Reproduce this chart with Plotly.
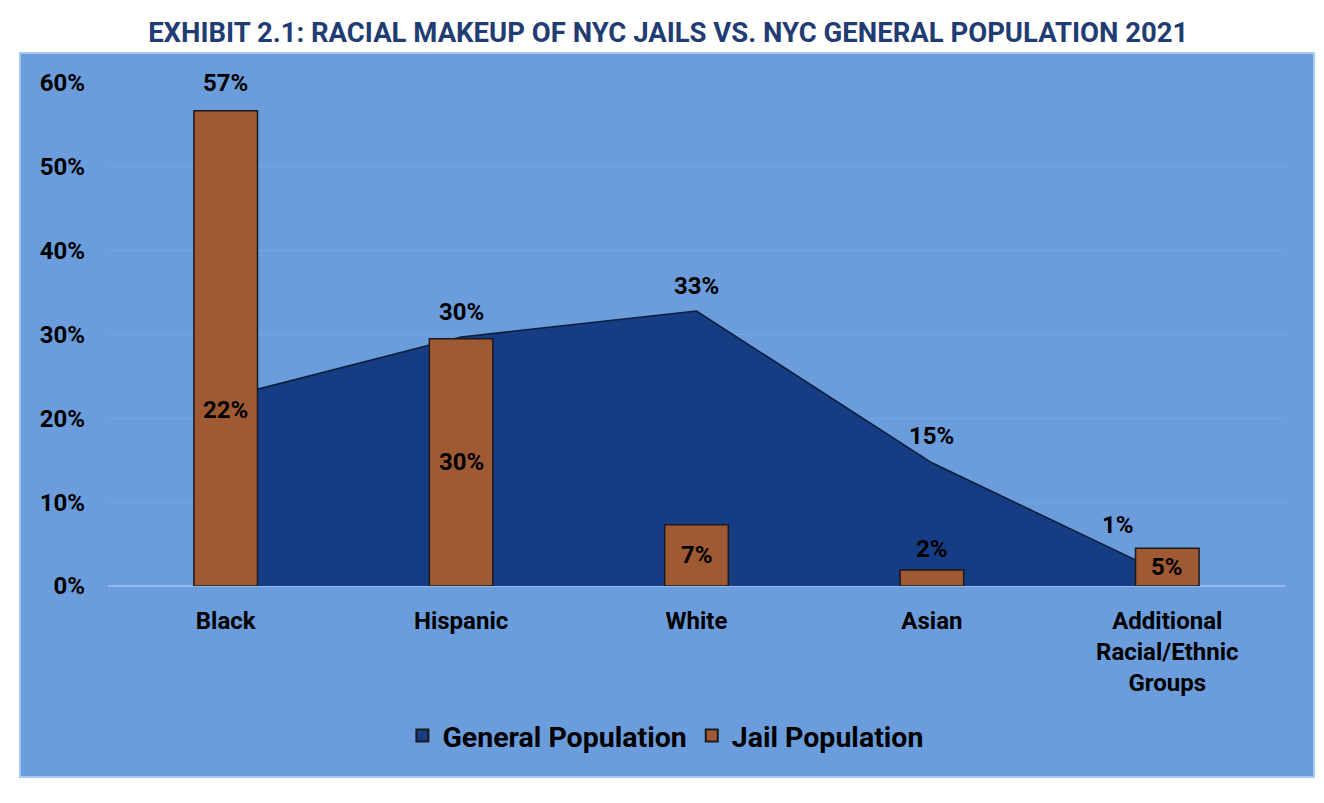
import plotly.graph_objects as go

categories = ['Black', 'Hispanic', 'White', 'Asian', 'Additional<br>Racial/Ethnic<br>Groups']
general_pop = [22.5, 29.7, 32.8, 14.7, 1.3]
general_labels = ['22%', '30%', '33%', '15%', '1%']
jail_pop = [56.7, 29.5, 7.3, 1.9, 4.5]
jail_labels = ['57%', '30%', '7%', '2%', '5%']
y_ticks = [0, 10, 20, 30, 40, 50, 60]
y_tick_labels = ['0%', '10%', '20%', '30%', '40%', '50%', '60%']

panel_blue = '#6B9DDC'
navy = '#163C84'
rust = '#A05A33'
font_name = 'Roboto'

fig = go.Figure()

# area: general population
fig.add_trace(
    go.Scatter(
        x=categories,
        y=general_pop,
        name='General Population',
        mode='lines',
        fill='tozeroy',
        fillcolor=navy,
        line=dict(color='#0E1E3A', width=1.5),
        showlegend=False,
        xaxis='x',
        yaxis='y'
    )
)

# legend-only square for the area series
fig.add_trace(
    go.Bar(
        x=[categories[0]],
        y=[None],
        name='General Population',
        marker=dict(color=navy, line=dict(color='#1A1A1A', width=1.5)),
        xaxis='x',
        yaxis='y'
    )
)

# bars on an overlaying axis so they sit above the area
fig.add_trace(
    go.Bar(
        x=categories,
        y=jail_pop,
        name='Jail Population',
        width=0.27,
        marker=dict(color=rust, line=dict(color='#1A1A1A', width=1.5)),
        xaxis='x',
        yaxis='y2'
    )
)

# label offsets in px (general pop line / jail bars)
gen_shift = [(0, -13), (0, 25), (0, 25), (0, 27), (-49, 50)]
jail_inside = [False, True, True, False, True]
jail_shift = [28, 0, 0, 21, 0]

label_font = dict(family=font_name, size=24, color='black', weight='bold')

annotations = []
for i, cat in enumerate(categories):
    dx, dy = gen_shift[i]
    annotations.append(dict(
        x=cat, y=general_pop[i], xref='x', yref='y',
        text=general_labels[i], showarrow=False,
        xshift=dx, yshift=dy, yanchor='middle',
        font=label_font
    ))
    if jail_inside[i]:
        y_pos = jail_pop[i] / 2
        shift = 0
    else:
        y_pos = jail_pop[i]
        shift = jail_shift[i]
    annotations.append(dict(
        x=cat, y=y_pos, xref='x', yref='y',
        text=jail_labels[i], showarrow=False,
        yshift=shift, yanchor='middle',
        font=label_font
    ))

fig.update_layout(
    width=1316,
    height=795,
    barmode='overlay',
    title=dict(
        text='EXHIBIT 2.1: RACIAL MAKEUP OF NYC JAILS VS. NYC GENERAL POPULATION 2021',
        x=0.476, xanchor='center', y=1 - 24 / 795, yanchor='middle',
        xref='paper',
        font=dict(family=font_name, size=27.5, color='#1F3C73', weight='bold')
    ),
    xaxis=dict(
        range=[-0.5, 4.5],
        showgrid=False,
        showline=False,
        ticks='',
        ticklabelstandoff=18,
        tickfont=dict(family=font_name, size=24, color='black', weight='bold')
    ),
    yaxis=dict(
        range=[0, 60],
        tickvals=y_ticks,
        ticktext=y_tick_labels,
        showgrid=True,
        gridcolor='#77A5E0',
        gridwidth=1,
        zeroline=True,
        zerolinecolor='#94BCEE',
        zerolinewidth=2,
        ticklabelstandoff=22,
        tickfont=dict(family=font_name, size=24, color='black', weight='bold')
    ),
    yaxis2=dict(
        range=[0, 60],
        overlaying='y',
        visible=False
    ),
    shapes=[dict(
        type='rect', xref='paper', yref='paper',
        x0=-0.0748, x1=1.0246, y0=-0.3797, y1=1.0596,
        fillcolor=panel_blue, line=dict(color='#A9C9F2', width=2),
        layer='below'
    )],
    annotations=annotations,
    showlegend=True,
    legend=dict(
        orientation='h',
        x=0.474, xanchor='center',
        y=-0.298, yanchor='middle',
        bgcolor='rgba(0,0,0,0)',
        font=dict(family=font_name, size=28.5, color='black', weight='bold'),
        itemsizing='constant',
        itemwidth=30
    ),
    plot_bgcolor='rgba(0,0,0,0)',
    paper_bgcolor='white',
    margin=dict(l=100, r=39, t=75, b=217)
)

fig.write_html('out.html')
